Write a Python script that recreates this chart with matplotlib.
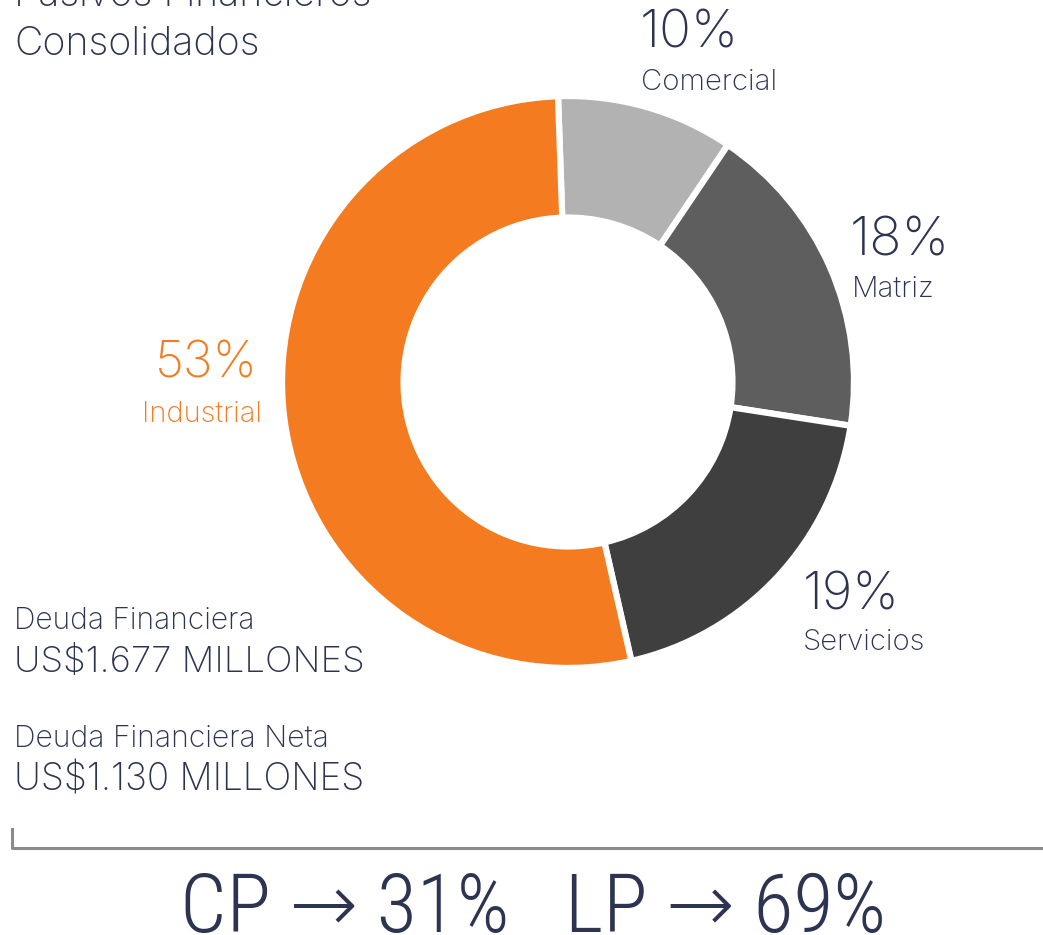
import matplotlib
matplotlib.use("Agg")
import matplotlib.pyplot as plt

W, H = 1043, 935
categories = ["Comercial", "Matriz", "Servicios", "Industrial"]
values = [10, 18, 19, 53]
pct_labels = ["10%", "18%", "19%", "53%"]
colors = ["#B2B2B2", "#5E5E5E", "#3F3F3F", "#F47B20"]
title_lines = ["Pasivos Financieros", "Consolidados"]
info_lines = [("Deuda Financiera", "US$1.677 MILLONES"),
              ("Deuda Financiera Neta", "US$1.130 MILLONES")]
cp_lp = "CP \u2192 31%   LP \u2192 69%"

FONT = ["Inter", "Roboto", "DejaVu Sans"]
NARROW = ["Roboto Condensed", "Roboto", "DejaVu Sans"]
NAVY = "#2C3451"
ORANGE = "#F47B20"

fig = plt.figure(figsize=(W / 100, H / 100), dpi=100)
fig.patch.set_facecolor("white")

# donut
cx, cy, R = 568, 382, 286
ax = fig.add_axes([(cx - R) / W, (H - cy - R) / H, 2 * R / W, 2 * R / H])
wedges, _ = ax.pie(values, colors=colors, startangle=92, counterclock=False,
                   wedgeprops=dict(width=0.425, edgecolor="white", linewidth=4.5))
for w in wedges:
    w.set_clip_on(False)
ax.set_xlim(-1, 1)
ax.set_ylim(-1, 1)
ax.axis("off")

renderer = fig.canvas.get_renderer()


def t(x, y, s, width=None, size=20, ha="left", **kw):
    """Place text with its baseline at pixel y; optionally fit to a pixel width."""
    kw.setdefault("family", FONT)
    kw.setdefault("color", NAVY)
    kw.setdefault("weight", "light")
    txt = fig.text(x / W, 1 - y / H, s, va="baseline", ha=ha, fontsize=size, **kw)
    if width is not None:
        bb = txt.get_window_extent(renderer)
        txt.set_fontsize(size * width / bb.width)
    return txt


# title
t(14, 55, title_lines[1], width=246, size=30)
t(14, 6, title_lines[0], size=fig.texts[-1].get_fontsize())

# slice labels
t(640, 47, pct_labels[0], width=99, size=36)
t(641, 90, categories[0], width=136, size=22)
t(850, 255, pct_labels[1], width=100, size=36)
t(852, 297, categories[1], width=83, size=22)
t(803, 610, pct_labels[2], width=97, size=36)
t(803, 650, categories[2], width=122, size=22)
t(258, 377, pct_labels[3], width=103, size=36, color=ORANGE, ha="right")
t(262, 422, categories[3], width=120, size=22, color=ORANGE, ha="right")

# info block
t(14, 629, info_lines[0][0], width=240, size=22)
t(14, 672, info_lines[0][1], width=350, size=26)
t(14, 747, info_lines[1][0], width=314, size=22)
t(14, 790, info_lines[1][1], width=350, size=26)

# bracket line
fig.add_artist(plt.Line2D([12 / W, 12 / W, 1.0], [1 - 829 / H, 1 - 848 / H, 1 - 848 / H],
                          color="#8A8A8A", linewidth=2.2, transform=fig.transFigure))

# bottom text
t(180, 932, cp_lp, width=707, size=53, family=NARROW)

fig.savefig("out.png", dpi=100)
